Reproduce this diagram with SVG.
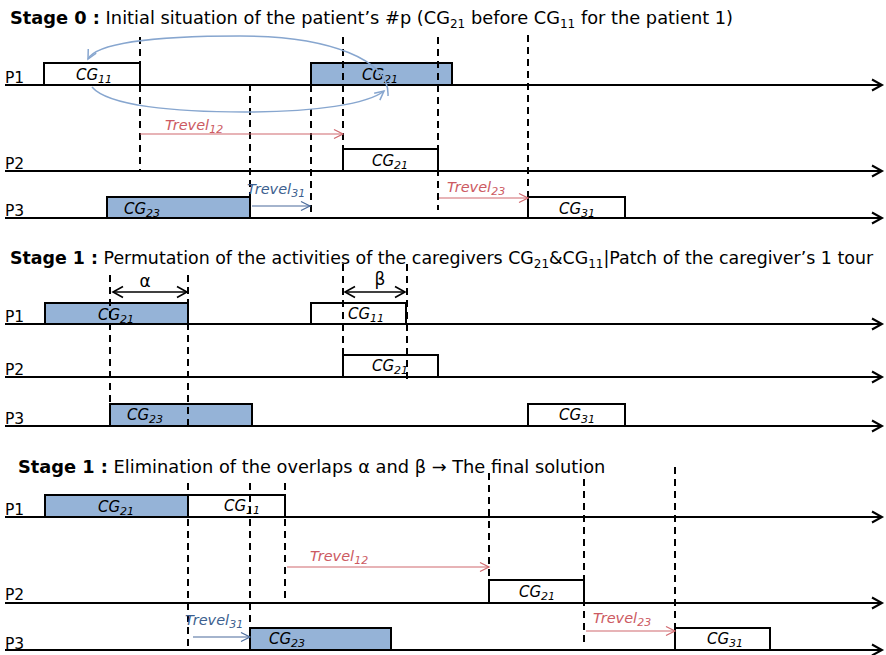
<svg xmlns="http://www.w3.org/2000/svg" width="886" height="655" viewBox="0 0 886 655">
<style>
.title{font-family:"DejaVu Sans",Verdana,sans-serif;font-size:17.8px;fill:#000}
.t2{font-size:17.4px}
.b{font-weight:bold}
.ts{font-size:12px}
.plab{font-family:"DejaVu Sans",sans-serif;font-size:15.5px;fill:#000}
.cg{font-family:"DejaVu Sans",sans-serif;font-style:italic;font-size:15px;fill:#000}
.cs{font-size:11px}
.tr{font-family:"DejaVu Sans",sans-serif;font-style:italic;font-size:14.5px}
.red{fill:#cc5a62}
.blu{fill:#3d5f8f}
.axis{stroke:#000;stroke-width:2;fill:none}
.box{stroke:#000;stroke-width:2}
.w{fill:#fff}
.f{fill:#95b3d7}
.dash{stroke:#000;stroke-width:2;stroke-dasharray:7,5;fill:none}
.ar{stroke:#d0686e;stroke-width:1.2;fill:none}
.ab{stroke:#4a6b9b;stroke-width:1.2;fill:none}
.ell{stroke:#87a6cf;stroke-width:1.5;fill:none}
.dbl{stroke:#000;stroke-width:1.6;fill:none}
.greek{font-family:"DejaVu Sans",sans-serif;font-size:17px;fill:#000}
</style>
<defs>
<marker id="ax" markerUnits="userSpaceOnUse" markerWidth="14" markerHeight="14" refX="11" refY="6" orient="auto" viewBox="0 0 14 12"><path d="M1,0.5 L11,6 L1,11.5" stroke="#000" stroke-width="2" fill="none"/></marker>
<marker id="mr" markerUnits="userSpaceOnUse" markerWidth="12" markerHeight="12" refX="10" refY="5" orient="auto" viewBox="0 0 12 10"><path d="M1,0.5 L10,5 L1,9.5" stroke="#d0686e" stroke-width="1.2" fill="none"/></marker>
<marker id="mb" markerUnits="userSpaceOnUse" markerWidth="12" markerHeight="12" refX="10" refY="5" orient="auto" viewBox="0 0 12 10"><path d="M1,0.5 L10,5 L1,9.5" stroke="#4a6b9b" stroke-width="1.2" fill="none"/></marker>
<marker id="me" markerUnits="userSpaceOnUse" markerWidth="12" markerHeight="12" refX="10" refY="5" orient="auto" viewBox="0 0 12 10"><path d="M1,0.5 L10,5 L1,9.5" stroke="#87a6cf" stroke-width="1.5" fill="none"/></marker>
<marker id="md" markerUnits="userSpaceOnUse" markerWidth="14" markerHeight="14" refX="11" refY="6" orient="auto-start-reverse" viewBox="0 0 14 12"><path d="M1,0.5 L11,6 L1,11.5" stroke="#000" stroke-width="1.6" fill="none"/></marker>
</defs>

<!-- Titles -->
<text class="title" x="10" y="24"><tspan class="b">Stage 0 :</tspan> Initial situation of the patient’s #p (CG<tspan class="ts" dy="4">21</tspan><tspan dy="-4"> before CG</tspan><tspan class="ts" dy="4">11</tspan><tspan dy="-4"> for the patient 1)</tspan></text>
<text class="title t2" x="10" y="264"><tspan class="b">Stage 1 :</tspan> Permutation of the activities of the caregivers CG<tspan class="ts" dy="4">21</tspan><tspan dy="-4">&amp;CG</tspan><tspan class="ts" dy="4">11</tspan><tspan dy="-4">|Patch of the caregiver’s 1 tour</tspan></text>
<text class="title" x="18" y="473"><tspan class="b">Stage 1 :</tspan> Elimination of the overlaps α  and β → The final solution</text>

<!-- Stage 0 -->
<g id="stage0">
<g id="s0-axes">
<line class="axis" x1="5" y1="85" x2="882" y2="85" marker-end="url(#ax)"/>
<line class="axis" x1="5" y1="171" x2="882" y2="171" marker-end="url(#ax)"/>
<line class="axis" x1="5" y1="218" x2="882" y2="218" marker-end="url(#ax)"/>
<text class="plab" x="5" y="83">P1</text>
<text class="plab" x="5" y="169">P2</text>
<text class="plab" x="5" y="216">P3</text>
</g>
<g id="s0-cg11-p1"><rect class="box w" x="44" y="63" width="96" height="22"/><text class="cg" x="94" y="80" text-anchor="middle">CG<tspan class="cs" dy="3">11</tspan></text></g>
<g id="s0-cg21-p1"><rect class="box f" x="311" y="63" width="141" height="22"/><text class="cg" x="380" y="80" text-anchor="middle">CG<tspan class="cs" dy="3">21</tspan></text></g>
<g id="s0-cg21-p2"><rect class="box w" x="343" y="149" width="95" height="22"/><text class="cg" x="390" y="166" text-anchor="middle">CG<tspan class="cs" dy="3">21</tspan></text></g>
<g id="s0-cg23-p3"><rect class="box f" x="107" y="197" width="143" height="21"/><text class="cg" x="142" y="214" text-anchor="middle">CG<tspan class="cs" dy="3">23</tspan></text></g>
<g id="s0-cg31-p3"><rect class="box w" x="528" y="197" width="97" height="21"/><text class="cg" x="577" y="214" text-anchor="middle">CG<tspan class="cs" dy="3">31</tspan></text></g>
<g id="s0-connectors">
<line class="dash" x1="140" y1="37" x2="140" y2="171"/>
<line class="dash" x1="250" y1="84" x2="250" y2="218"/>
<line class="dash" x1="311" y1="85" x2="311" y2="218"/>
<line class="dash" x1="343" y1="37" x2="343" y2="171"/>
<line class="dash" x1="438" y1="37" x2="438" y2="210"/>
<line class="dash" x1="528" y1="35" x2="528" y2="197"/>
<path class="ell" d="M388,96 C390,60 330,36 240,36 C150,36 96,44 88,59" marker-end="url(#me)"/>
<path class="ell" d="M92,87 C108,106 175,112 245,112 C315,112 368,104 384,91" marker-end="url(#me)"/>
<line class="ar" x1="140" y1="134" x2="343" y2="134" marker-end="url(#mr)"/>
<line class="ab" x1="252" y1="206" x2="310" y2="206" marker-end="url(#mb)"/>
<line class="ar" x1="439" y1="198" x2="528" y2="198" marker-end="url(#mr)"/>
<text class="tr red" x="165" y="130">Trevel<tspan class="cs" dy="3">12</tspan></text>
<text class="tr blu" x="247" y="194">Trevel<tspan class="cs" dy="3">31</tspan></text>
<text class="tr red" x="447" y="192">Trevel<tspan class="cs" dy="3">23</tspan></text>
</g>
</g>

<!-- Stage 1 -->
<g id="stage1">
<g id="s1-axes">
<line class="axis" x1="5" y1="324" x2="882" y2="324" marker-end="url(#ax)"/>
<line class="axis" x1="5" y1="377" x2="882" y2="377" marker-end="url(#ax)"/>
<line class="axis" x1="5" y1="426" x2="882" y2="426" marker-end="url(#ax)"/>
<text class="plab" x="5" y="322">P1</text>
<text class="plab" x="5" y="375">P2</text>
<text class="plab" x="5" y="424">P3</text>
</g>
<g id="s1-cg21-p1"><rect class="box f" x="45" y="303" width="143" height="21"/><text class="cg" x="116" y="320" text-anchor="middle">CG<tspan class="cs" dy="3">21</tspan></text></g>
<g id="s1-cg11-p1"><rect class="box w" x="311" y="303" width="95" height="21"/><text class="cg" x="366" y="319" text-anchor="middle">CG<tspan class="cs" dy="3">11</tspan></text></g>
<g id="s1-cg21-p2"><rect class="box w" x="343" y="355" width="95" height="22"/><text class="cg" x="390" y="371" text-anchor="middle">CG<tspan class="cs" dy="3">21</tspan></text></g>
<g id="s1-cg23-p3"><rect class="box f" x="110" y="404" width="142" height="22"/><text class="cg" x="145" y="420" text-anchor="middle">CG<tspan class="cs" dy="3">23</tspan></text></g>
<g id="s1-cg31-p3"><rect class="box w" x="528" y="404" width="97" height="22"/><text class="cg" x="577" y="420" text-anchor="middle">CG<tspan class="cs" dy="3">31</tspan></text></g>
<g id="s1-connectors">
<line class="dash" x1="110" y1="275" x2="110" y2="426"/>
<line class="dash" x1="188" y1="275" x2="188" y2="426"/>
<line class="dash" x1="343" y1="264" x2="343" y2="377"/>
<line class="dash" x1="407" y1="264" x2="407" y2="380"/>
<line class="dbl" x1="113" y1="292" x2="187" y2="292" marker-start="url(#md)" marker-end="url(#md)"/>
<line class="dbl" x1="345" y1="292" x2="405" y2="292" marker-start="url(#md)" marker-end="url(#md)"/>
<text class="greek" x="145" y="287" text-anchor="middle">α</text>
<text class="greek" x="380" y="285" text-anchor="middle">β</text>
</g>
</g>

<!-- Stage 2 -->
<g id="stage2">
<g id="s2-axes">
<line class="axis" x1="5" y1="517" x2="882" y2="517" marker-end="url(#ax)"/>
<line class="axis" x1="5" y1="603" x2="882" y2="603" marker-end="url(#ax)"/>
<line class="axis" x1="5" y1="650" x2="882" y2="650" marker-end="url(#ax)"/>
<text class="plab" x="5" y="515">P1</text>
<text class="plab" x="5" y="600">P2</text>
<text class="plab" x="5" y="649">P3</text>
</g>
<g id="s2-cg21-p1"><rect class="box f" x="45" y="495" width="143" height="22"/><text class="cg" x="116" y="512" text-anchor="middle">CG<tspan class="cs" dy="3">21</tspan></text></g>
<g id="s2-cg11-p1"><rect class="box w" x="188" y="495" width="97" height="22"/><text class="cg" x="242" y="511" text-anchor="middle">CG<tspan class="cs" dy="3">11</tspan></text></g>
<g id="s2-cg21-p2"><rect class="box w" x="489" y="580" width="95" height="23"/><text class="cg" x="537" y="597" text-anchor="middle">CG<tspan class="cs" dy="3">21</tspan></text></g>
<g id="s2-cg23-p3"><rect class="box f" x="250" y="628" width="141" height="22"/><text class="cg" x="287" y="644" text-anchor="middle">CG<tspan class="cs" dy="3">23</tspan></text></g>
<g id="s2-cg31-p3"><rect class="box w" x="675" y="628" width="95" height="22"/><text class="cg" x="725" y="644" text-anchor="middle">CG<tspan class="cs" dy="3">31</tspan></text></g>
<g id="s2-connectors">
<line class="dash" x1="188" y1="483" x2="188" y2="650"/>
<line class="dash" x1="250" y1="483" x2="250" y2="650"/>
<line class="dash" x1="285" y1="483" x2="285" y2="603"/>
<line class="dash" x1="489" y1="473" x2="489" y2="603"/>
<line class="dash" x1="584" y1="479" x2="584" y2="643"/>
<line class="dash" x1="675" y1="467" x2="675" y2="650"/>
<line class="ar" x1="287" y1="567" x2="489" y2="567" marker-end="url(#mr)"/>
<line class="ab" x1="193" y1="637" x2="250" y2="637" marker-end="url(#mb)"/>
<line class="ar" x1="586" y1="631" x2="675" y2="631" marker-end="url(#mr)"/>
<text class="tr red" x="310" y="561">Trevel<tspan class="cs" dy="3">12</tspan></text>
<text class="tr blu" x="185" y="625">Trevel<tspan class="cs" dy="3">31</tspan></text>
<text class="tr red" x="593" y="623">Trevel<tspan class="cs" dy="3">23</tspan></text>
</g>
</g>
</svg>
